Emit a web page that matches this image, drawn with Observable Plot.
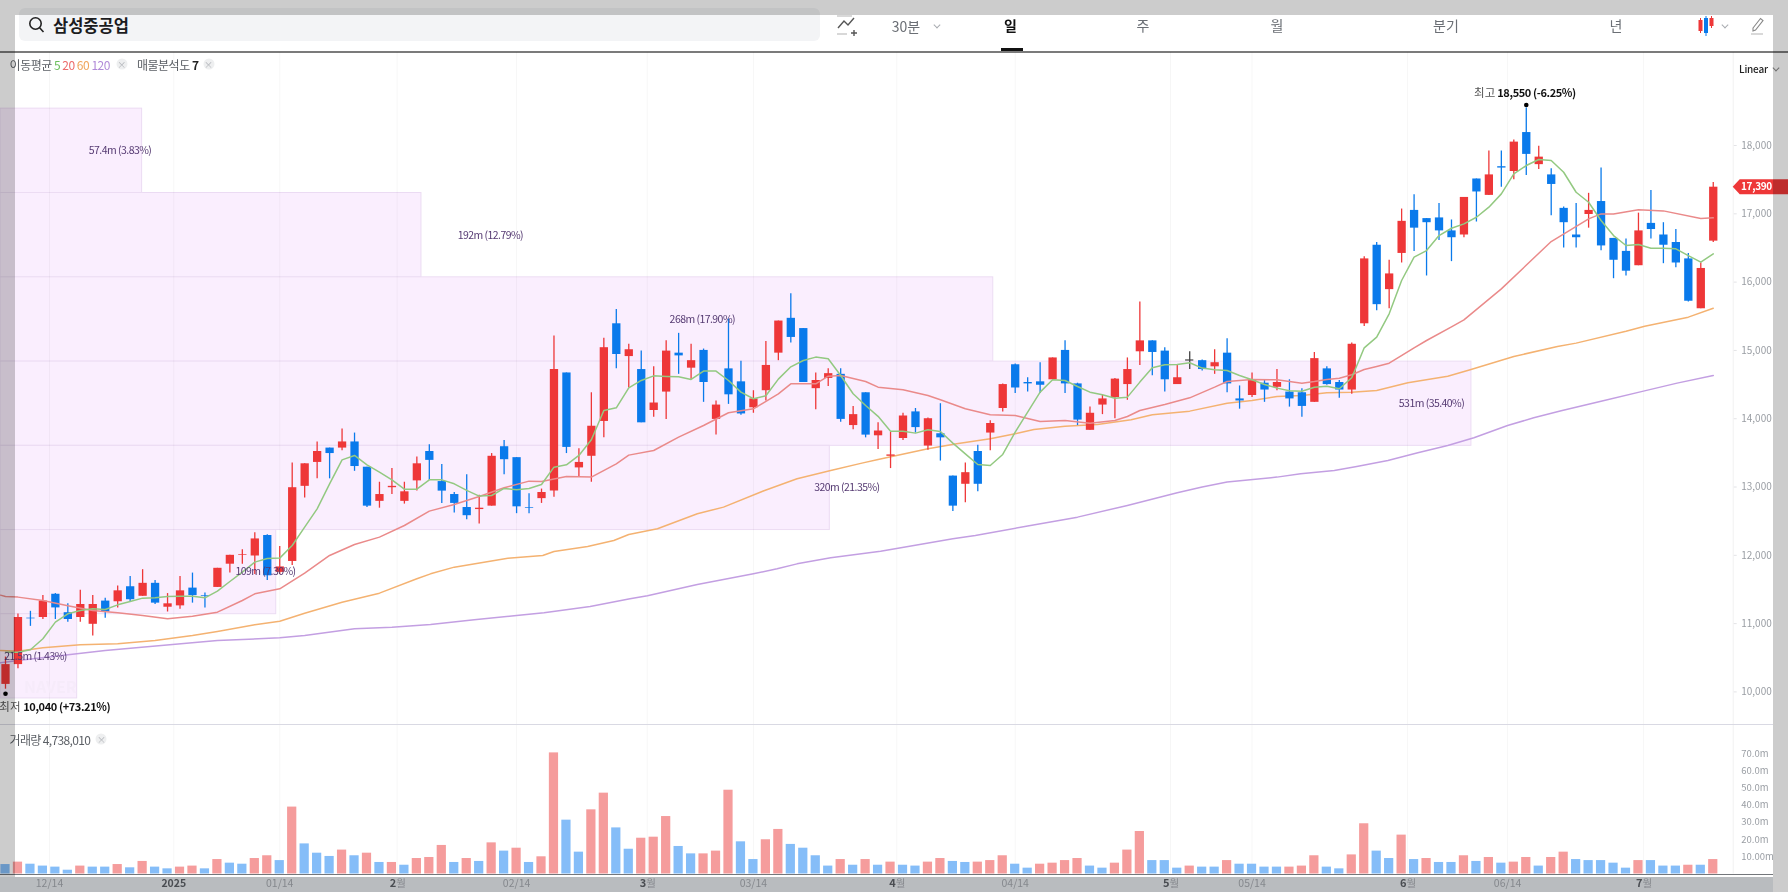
<!DOCTYPE html>
<html>
<head>
<meta charset="utf-8">
<script src="https://cdn.jsdelivr.net/npm/d3@7"></script>
<script src="https://cdn.jsdelivr.net/npm/@observablehq/plot@0.6"></script>
<style>
  html, body {margin: 0; padding: 0; background: #fff;}
  body {width: 1788px; height: 892px; overflow: hidden; position: relative; font-family: "Noto Sans CJK KR", sans-serif;}
  #root {position: absolute; inset: 0; filter: blur(0.35px);}
  .abs {position: absolute;}
  .c {position: absolute; transform: translate(-50%, -50%); white-space: nowrap;}
  .tab {font-size: 14px; color: #6b6f75;}
  .legend {font-size: 12px; letter-spacing: -0.5px; color: #5c6066; transform: translateY(-50%);position: absolute; white-space: nowrap;}
  .x {position: absolute; width: 11px; height: 11px; border-radius: 50%; background: #eeeff0; transform: translate(-50%, -50%); color: #b0b3b8; font-size: 9px; line-height: 11px; text-align: center;}
  .chev {position: absolute; width: 4px; height: 4px; border-right: 1px solid #a8abb0; border-bottom: 1px solid #a8abb0; transform: translate(-50%, -70%) rotate(45deg);}
  svg {position: absolute; left: 0; overflow: visible;}
</style>
</head>
<body>
<div id="root">
  <div class="abs" style="left:19px;top:8px;width:801px;height:33px;background:#f3f4f6;border-radius:6px"></div>
  <svg style="left:28px;top:16px" width="17" height="18" viewBox="0 0 17 18" fill="none" stroke="#222" stroke-width="1.6"><circle cx="7.5" cy="7.5" r="5.7"/><path d="M11.6 11.8L15.5 16"/></svg>
  <div class="abs" style="left:53px;top:25px;transform:translateY(-50%);font-size:16.5px;font-weight:700;color:#1c1c1e;white-space:nowrap">삼성중공업</div>

  <svg style="left:836px;top:15px" width="24" height="22" viewBox="0 0 24 22" fill="none" stroke="#555" stroke-width="1.4"><path d="M1 1H16M1 19H11" stroke="#ccc"/><path d="M2 13L8 6L12 10L18 3"/><path d="M18 15V21M15 18H21"/></svg>
  <div class="c tab" style="left:906px;top:26px">30분</div>
  <div class="chev" style="left:937px;top:26px"></div>
  <div class="c tab" style="left:1010.5px;top:25px;color:#111;font-weight:700">일</div>
  <div class="abs" style="left:1000.5px;top:48px;width:22px;height:3px;background:#111"></div>
  <div class="c tab" style="left:1143px;top:25px">주</div>
  <div class="c tab" style="left:1277px;top:25px">월</div>
  <div class="c tab" style="left:1446px;top:25px">분기</div>
  <div class="c tab" style="left:1616px;top:25px">년</div>
  <svg style="left:1697px;top:14px" width="18" height="24" viewBox="0 0 18 24" stroke-width="1"><path d="M3.5 4V19" stroke="#ee3738"/><rect x="1.5" y="6" width="4" height="11" fill="#ee3738" stroke="none"/><path d="M9 2V22" stroke="#0a7aeb"/><rect x="7" y="4" width="4" height="15" fill="#0a7aeb" stroke="none"/><path d="M14.5 2V14" stroke="#ee3738"/><rect x="12.5" y="4" width="4" height="8" fill="#ee3738" stroke="none"/></svg>
  <div class="chev" style="left:1725px;top:26px"></div>
  <svg style="left:1750px;top:15px" width="16" height="20" viewBox="0 0 16 20" fill="none" stroke="#888" stroke-width="1.1"><path d="M3 13L10.5 3.5L13 5.5L5.5 15L3 16Z"/><path d="M1 19H13" stroke="#bbb"/></svg>
  <div class="abs" style="left:0;top:51px;width:1788px;height:1.5px;background:#7b7b7b"></div>

  <div id="price"></div>
  <div class="abs" style="left:0;top:877px;width:1773px;height:15px;background:#b9bcbf"></div>
  <div id="volume"></div>
  <div class="abs" style="left:0;top:873.6px;width:1773px;height:1px;background:#74777b"></div>
  <div class="abs" style="left:0;top:723.6px;width:1773px;height:1.3px;background:#d9d9e3"></div>

  <div class="legend" style="left:9.6px;top:64px">이동평균 <span style="color:#6cbf5c">5</span> <span style="color:#ec6a6a">20</span> <span style="color:#f0a65c">60</span> <span style="color:#b18ad8">120</span></div>
  <div class="x" style="left:121.7px;top:64px">×</div>
  <div class="legend" style="left:137px;top:64px">매물분석도 <b style="color:#222">7</b></div>
  <div class="x" style="left:208.6px;top:64px">×</div>
  <div class="legend" style="left:9.6px;top:739px;letter-spacing:-0.65px">거래량 4,738,010</div>
  <div class="x" style="left:101.4px;top:739px">×</div>
  <div class="abs" style="left:1739px;top:68px;transform:translateY(-50%);font-size:10px;font-weight:500;color:#222;letter-spacing:-0.2px">Linear</div>
  <div class="chev" style="left:1776px;top:69px;border-color:#8a8a8a"></div>

  <div class="abs" style="left:0;top:0;width:1788px;height:15px;background:rgba(0,0,0,.2)"></div>
  <div class="abs" style="left:0;top:15px;width:15px;height:862px;background:rgba(0,0,0,.2)"></div>
  <div class="abs" style="left:1773px;top:15px;width:15px;height:877px;background:rgba(0,0,0,.2)"></div>
</div>
<script>
// candles, one entry per trading day
const opens = [10110,10400,11080,11090,11430,11160,11090,10990,11330,11320,11540,11400,11590,11240,11260,11520,11410,11530,11870,12000,11990,12290,11750,11910,13010,13360,13570,13570,13660,13290,12790,12990,12790,13090,13520,13080,12890,12700,12670,12720,13590,13430,12700,12830,12940,14670,13280,13450,13960,15390,14910,14720,14120,14390,14960,14740,15000,13990,14730,14540,14160,14410,14960,15470,15320,14440,14590,14650,13900,14380,13750,13450,13710,14100,13600,13780,13160,13040,13520,13790,14150,14790,14530,14540,14570,15000,14510,13830,14200,14310,14500,14980,15140,14990,14500,14860,14850,14760,14960,14290,14340,14520,14460,14390,14380,14240,14730,14530,14420,15390,16540,15890,16420,17050,16930,16940,16750,16690,17510,17270,17690,17620,18190,17720,17570,17080,16690,16990,17180,16640,16450,16240,16860,16690,16580,16340,15610,16600];
const highs = [10510,11140,11180,11410,11440,11290,11490,11410,11370,11550,11690,11790,11630,11440,11690,11740,11450,11810,12000,12080,12330,12300,12130,13350,13340,13660,13570,13850,13790,13290,13070,13270,13070,13440,13620,13330,12920,13180,12880,13490,13680,13430,12900,12970,15210,14670,13560,14380,15180,15600,15090,14990,14760,15140,15250,15090,15020,14260,15460,14840,14410,15130,15430,15830,15320,14670,14730,14730,14180,14380,13940,13800,14080,14150,14010,14220,13160,13350,13610,13970,14510,14800,14600,14820,14890,15140,14520,14170,14340,14590,14890,15710,15140,15040,14790,14980,14860,15010,15170,14480,14670,14570,14720,14570,14440,14970,14760,14560,15110,16370,16580,16320,17070,17280,16930,17150,16910,17240,17510,17920,17920,18080,18550,17990,17660,17100,17150,17300,17670,16640,16630,17010,17340,16870,16770,16420,16280,17460];
const lows = [10040,10340,10960,11060,11060,11020,11020,10820,11080,11230,11310,11400,11280,11170,11210,11300,11230,11530,11740,11870,11720,11630,11720,11850,12840,13120,13120,13530,13230,12700,12690,12890,12750,12940,13100,12760,12620,12520,12460,12720,13180,12610,12610,12760,12850,13490,13140,13070,13720,14730,14450,13940,14020,13990,14650,14570,14240,13760,14210,14050,14080,14260,14850,15110,14530,14130,14470,13950,13840,13720,13550,13270,13680,13790,13540,13380,12640,12770,12930,13530,14100,14370,14390,14370,14570,14370,13900,13830,14060,14000,14270,14780,14630,14390,14500,14720,14700,14650,14380,14140,14310,14240,14410,14170,14020,14240,14490,14300,14360,15350,15580,15610,16280,16450,16090,16610,16300,16650,16880,17270,17390,17500,17560,17650,16970,16500,16500,16790,16460,16050,16090,16240,16630,16270,16210,15710,15610,16580];
const closes = [10400,11090,11070,11330,11230,11060,11280,11280,11170,11480,11350,11590,11300,11290,11480,11410,11400,11810,12000,12010,12240,11700,11830,12990,13340,13520,13490,13660,13300,12720,12890,13010,12930,13340,13390,12940,12760,12580,12690,13450,13400,12710,12690,12920,14720,13580,13360,13890,15040,14940,15010,13940,14230,14990,14920,14850,14530,14200,14350,14070,14290,14780,15430,15190,14530,14560,14660,13990,14060,13760,13820,13470,14040,13870,14000,13720,12720,13210,13040,13930,14500,14450,14510,14490,14890,14510,13980,14080,14290,14580,14720,15140,14970,14570,14600,14860,14720,14820,14510,14260,14570,14420,14530,14290,14180,14880,14500,14420,15090,16340,15670,16120,16890,16790,16870,16750,16650,17240,17320,17570,17670,18050,17870,17830,17430,16870,16650,17050,16530,16320,16160,16750,16770,16540,16280,15720,16200,17390];

// moving averages: ma5 has a value per candle, the slow ones are vertices along the line
const ma5 = [10582,10582,10617,10778,11022,11144,11192,11217,11207,11275,11324,11373,11378,11397,11402,11402,11378,11475,11617,11754,11900,11954,11959,12144,12412,12681,13047,13398,13462,13325,13218,13105,12969,12969,13105,13105,13047,12950,12867,12876,12979,12959,12979,13037,13291,13325,13462,13691,14121,14160,14453,14560,14628,14619,14614,14575,14697,14697,14560,14389,14292,14336,14580,14760,14853,14902,14877,14633,14365,14194,14035,13818,13818,13789,13838,13813,13643,13486,13330,13316,13477,13804,14096,14389,14570,14560,14472,14389,14350,14301,14316,14536,14745,14789,14794,14819,14741,14716,14706,14633,14570,14501,14448,14409,14403,14462,14477,14438,14599,15038,15194,15536,16024,16365,16462,16682,16789,16853,16950,17097,17292,17585,17707,17795,17780,17609,17316,17170,16902,16682,16536,16550,16497,16497,16487,16389,16292,16414];
const ma20Days = [-0.4,0,1,3,5,7,9,11,13,15,17,19,20,22,24,26,28,30,32,34,36,38,40,42,43,45,47,49,50,52,54,56,58,60,62,63,65,66,67,69,70,72,74,75,77,79,81,83,85,87,89,90,91,93,95,97,98,100,102,104,105,106,107,108,109,110,111,113,114,116,117,120,124,127,128,129,131,133,136,137];
const ma20 = [11417,11397,11388,11339,11261,11192,11158,11119,11070,11109,11168,11339,11436,11510,11739,11998,12159,12266,12437,12647,12745,12862,12989,13086,13081,13155,13145,13340,13467,13535,13730,13901,14087,14145,14365,14511,14511,14623,14633,14545,14462,14423,14340,14277,14145,14057,14048,13960,13974,13935,13974,14033,14121,14209,14306,14462,14545,14575,14570,14521,14545,14574,14594,14643,14721,14765,14813,15038,15145,15345,15447,15901,16594,16926,16999,16999,17058,17043,16931,16941];
const ma60Days = [-0.4,1,3,6,9,12,15,17,20,22,24,27,30,33,34.1,36,40.3,43.1,44,46.7,48.8,50,52.3,55.5,57.6,60.9,63.5,66.2,68.7,70,74,76.3,79,81,82.5,85,87.6,90.3,92,95,98,100,102,104,106,108,110,112.5,115.7,117.5,121,124.5,126,130,131.5,135,137];
const ma60 = [10607,10597,10646,10690,10704,10753,10826,10885,10983,11036,11153,11314,11446,11656,11729,11827,11958,11997,12056,12129,12217,12305,12388,12608,12706,12950,13120,13243,13350,13403,13560,13633,13706,13780,13843,13891,13916,13984,14057,14111,14228,14267,14326,14340,14379,14389,14414,14526,14623,14716,14911,15058,15107,15282,15355,15487,15618];
const ma120Days = [-0.4,1,8,17,22,24,28,31,34.1,37.6,41,43.2,46.9,50.1,51.5,55.5,60,61.9,63.5,66.2,70.2,71.6,76,77.8,82,86,90,94,96,98,102,103.9,106.6,108.4,110.9,113.3,115.7,117.8,120.5,122.6,124.8,128,131.4,134.1,137];
const ma120 = [10426,10460,10607,10753,10792,10826,10924,10948,10987,11056,11119,11158,11251,11363,11407,11573,11729,11802,11875,11963,12061,12105,12242,12291,12428,12559,12730,12915,13000,13072,13145,13194,13242,13301,13389,13501,13608,13721,13901,14013,14116,14257,14404,14521,14633];

// volume in millions, and the days whose bar is red
const volumes = [5.5,6.9,5.7,4.6,4.0,2.2,4.6,4.0,4.0,5.5,3.6,7.3,4.0,3.0,4.0,4.6,3.0,8.4,6.3,5.7,9.0,10.6,7.8,38.9,17.5,12.1,10.2,13.9,10.6,12.1,6.7,6.7,5.1,9.0,9.6,16.6,6.7,9.0,7.3,18.1,13.3,15.0,6.7,10.0,70.4,31.3,12.7,37.3,47.0,26.8,14.4,20.8,21.4,33.4,16.0,11.7,11.7,13.3,48.7,18.7,8.4,19.9,25.9,17.2,15.0,10.6,4.6,8.4,5.1,8.4,5.1,6.9,5.1,4.6,6.9,9.0,7.3,6.7,6.9,7.8,10.6,5.7,3.4,5.7,6.3,7.8,9.0,4.6,3.4,6.3,13.9,24.7,7.8,7.8,3.4,4.6,4.0,4.0,7.8,5.7,5.7,4.0,4.0,4.0,4.6,10.6,4.0,3.0,11.1,29.2,13.3,9.0,22.6,8.4,9.0,6.7,6.7,10.6,7.3,9.6,6.3,6.9,9.6,4.6,9.6,12.7,8.4,7.8,7.8,6.3,3.4,7.8,7.8,4.6,4.6,5.1,5.1,8.4];
const volumeUpDays = [1,6,9,11,14,15,17,20,21,23,27,29,31,33,34,35,37,39,41,43,44,47,48,51,52,53,56,57,58,61,62,67,69,71,74,75,78,79,80,83,84,85,86,89,90,91,95,98,103,104,105,108,109,112,114,117,119,121,122,124,125,131,135,137];

// price-volume profile boxes
const profileTop = [18540,17305,16070,14836,13603,12370,11138];
const profileBottom = [17305,16070,14836,13603,12370,11138,9905];
const profileEnd = [10.96,33.37,79.24,117.6,66.13,21.72,5.75];
const profileLabelDay = [9.19,38.9,55.9,114.4,67.5,20.86,2.41];
const profileLabels = ["57.4m (3.83%)","192m (12.79%)","268m (17.90%)","531m (35.40%)","320m (21.35%)","109m (7.30%)","21.5m (1.43%)"];

// axis ticks
const priceTicks = [10000,11000,12000,13000,14000,15000,16000,17000,18000];
const volumeTicks = [10,20,30,40,50,60,70];
const volumeTickLabels = ["10.00m","20.0m","30.0m","40.0m","50.0m","60.0m","70.0m"];
const dateTickDays = [3.53,22,41,60,81,100,120.5];
const dateTickLabels = ["12/14","01/14","02/14","03/14","04/14","05/14","06/14"];
const monthTickDays = [31.42,51.48,71.5,93.46,112.47,131.4];
const monthTickLabels = ["2","3","4","5","6","7"];
const yearTickDay = 13.5;
const gridDays = [...dateTickDays, ...monthTickDays, yearTickDay];

const highLabel = "18,550 (-6.25%)", lowLabel = "10,040 (+73.21%)";
const days = opens.map((d, i) => i);
const RED = "#ee3738", BLUE = "#0a7aeb";
const candleColor = i => closes[i] === opens[i] ? "#444" : closes[i] > opens[i] ? RED : BLUE;
const profile = profileEnd.map((d, i) => i);
const WIDTH = 1788, MARGIN_RIGHT = 55.3;
const xOpts = {domain: [-0.401, 138.6]};
const font = '"Noto Sans CJK KR", sans-serif';

// red flag with the last price, sits on the axis
const lastPriceTag = (index, {y}) => {
  const py = y(closes[closes.length - 1]), left = WIDTH - MARGIN_RIGHT;
  const g = d3.create("svg:g");
  g.append("path").attr("fill", RED)
    .attr("d", `M${left},${py}L${left + 7},${py - 7.5}H${WIDTH}V${py + 7.5}H${left + 7}Z`);
  g.append("text").attr("x", 1741).attr("y", py).attr("dy", "0.35em").attr("text-anchor", "start")
    .attr("fill", "#fff").attr("font-size", 10).attr("font-weight", 700).attr("letter-spacing", -0.3)
    .text("17,390");
  return g.node();
};

const priceChart = Plot.plot({
  width: WIDTH, height: 672,
  marginLeft: 0, marginRight: MARGIN_RIGHT, marginTop: 0, marginBottom: 0,
  style: {background: "transparent", fontFamily: font},
  x: {...xOpts, axis: null},
  y: {domain: [9523, 19362], axis: null},
  marks: [
    Plot.rect(profile, {x1: -0.401, x2: i => profileEnd[i], y1: i => profileBottom[i], y2: i => profileTop[i], fill: "#faeefe", stroke: "#ecdcf3", strokeWidth: 1}),
    Plot.ruleX(gridDays, {stroke: "#000", strokeOpacity: 0.035}),
    Plot.ruleX([138.6], {stroke: "#000", strokeOpacity: 0.06}),
    Plot.text(["NAVER"], {x: 3.6, y: 10060, text: d => d, fill: "#f6ebfa", fontSize: 16, fontWeight: 700}),

    Plot.line(ma120, {x: (d, i) => ma120Days[i], y: d => d, stroke: "#c39fe2", strokeWidth: 1.5}),
    Plot.line(ma60, {x: (d, i) => ma60Days[i], y: d => d, stroke: "#f4b271", strokeWidth: 1.5}),

    Plot.ruleX(days, {x: i => i, y1: i => lows[i], y2: i => highs[i], stroke: candleColor, strokeWidth: 1.3}),
    Plot.ruleX(days, {x: i => i, y1: i => opens[i], y2: i => closes[i], stroke: candleColor, strokeWidth: 8.3}),
    Plot.ruleY(days.filter(i => closes[i] === opens[i]), {x1: i => i - 0.33, x2: i => i + 0.33, y: i => closes[i], stroke: candleColor, strokeWidth: 1.2}),

    Plot.line(ma20, {x: (d, i) => ma20Days[i], y: d => d, stroke: "#ea8a8a", strokeWidth: 1.5}),
    Plot.line(ma5, {x: (d, i) => i, y: d => d, stroke: "#93c981", strokeWidth: 1.5}),

    Plot.text(profile, {x: i => profileLabelDay[i], y: i => (profileTop[i] + profileBottom[i]) / 2, text: i => profileLabels[i], fill: "#553a72", fontSize: 10.5}),

    Plot.dot([122], {x: i => i, y: i => highs[i], r: 2.3, fill: "#000", dy: -3}),
    Plot.text([122], {x: i => i, y: i => highs[i], text: () => "최고", textAnchor: "end", dx: -31, dy: -14.5, fill: "#555", fontSize: 11.5}),
    Plot.text([122], {x: i => i, y: i => highs[i], text: () => highLabel, textAnchor: "start", dx: -29, dy: -14.5, fill: "#111", fontSize: 11, fontWeight: 600}),
    Plot.dot([0], {x: i => i, y: i => lows[i], r: 2.3, fill: "#000", dy: 4.5}),
    Plot.text([0], {x: i => i, y: i => lows[i], text: () => "최저", textAnchor: "end", dx: 15, dy: 18, fill: "#555", fontSize: 11.5}),
    Plot.text([0], {x: i => i, y: i => lows[i], text: () => lowLabel, textAnchor: "start", dx: 17.7, dy: 18, fill: "#111", fontSize: 11, fontWeight: 600}),

    Plot.axisY({anchor: "right", ticks: priceTicks, tickFormat: d3.format(","), tickSize: 3, tickPadding: 5, stroke: "#e3e3e6", color: "#9a9ea4", fontSize: 10}),
    lastPriceTag
  ]
});
// Plot has no letter spacing option, so tighten these after the fact
d3.select(priceChart).selectAll("text").each(function() {
  const t = this.textContent;
  if (profileLabels.includes(t)) this.style.letterSpacing = "-0.55px";
  if (t === highLabel || t === lowLabel) this.style.letterSpacing = "-0.4px";
});
priceChart.style.top = "52px";
document.getElementById("price").append(priceChart);

const volumeChart = Plot.plot({
  width: WIDTH, height: 168,
  marginLeft: 0, marginRight: MARGIN_RIGHT, marginTop: 0, marginBottom: 18.5,
  style: {background: "transparent", fontFamily: font},
  x: {...xOpts, axis: null},
  y: {domain: [0, 86.9], axis: null},
  marks: [
    Plot.ruleX(gridDays, {stroke: "#000", strokeOpacity: 0.035}),
    Plot.ruleX([138.6], {stroke: "#000", strokeOpacity: 0.06}),
    Plot.rectY(days, {x1: i => i - 0.37, x2: i => i + 0.37, y1: 0, y2: i => volumes[i], fill: i => volumeUpDays.includes(i) ? "#f59c9c" : "#85bdf8"}),
    Plot.axisY({anchor: "right", ticks: volumeTicks, tickFormat: (d, i) => volumeTickLabels[i], tickSize: 0, tickPadding: 8, color: "#9a9ea4", fontSize: 9.5}),
    Plot.text(dateTickDays, {x: d => d, text: (d, i) => dateTickLabels[i], frameAnchor: "bottom", lineAnchor: "middle", dy: 9.5, fill: "#85888d", fontSize: 10.5}),
    Plot.text([yearTickDay], {x: d => d, text: () => "2025", frameAnchor: "bottom", lineAnchor: "middle", dy: 9.5, fill: "#4a4d52", fontSize: 10.5, fontWeight: 700}),
    Plot.text(monthTickDays, {x: d => d, text: (d, i) => monthTickLabels[i], textAnchor: "end", dx: -1, frameAnchor: "bottom", lineAnchor: "middle", dy: 9.5, fill: "#4a4d52", fontSize: 11, fontWeight: 700}),
    Plot.text(monthTickDays, {x: d => d, text: () => "월", textAnchor: "start", dx: -1, frameAnchor: "bottom", lineAnchor: "middle", dy: 9.5, fill: "#85888d", fontSize: 10.5})
  ]
});
volumeChart.style.top = "724px";
document.getElementById("volume").append(volumeChart);
</script>
</body>
</html>
